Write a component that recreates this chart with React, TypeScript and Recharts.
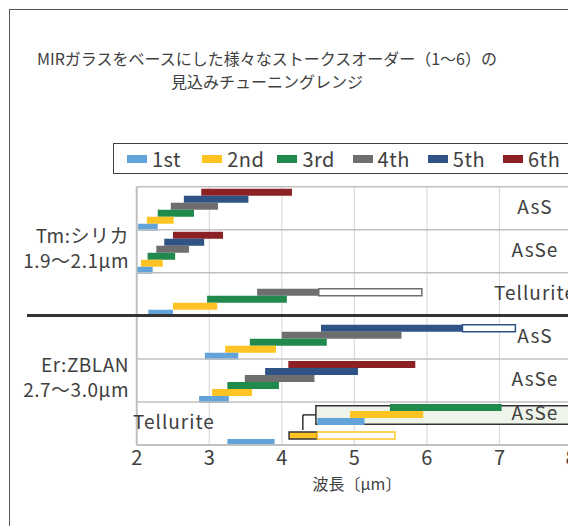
import {
  BarChart,
  Bar,
  XAxis,
  YAxis,
  CartesianGrid,
  Cell,
  ReferenceLine,
  ReferenceArea,
} from "recharts";

const rows = ["AsS", "AsSe", "Tellurite", "AsS", "AsSe", "Tellurite"];
const orders = ["1st", "2nd", "3rd", "4th", "5th", "6th"];
const colors = ["#62a3d9", "#ffc423", "#1f8a4c", "#6e6e6e", "#2f5385", "#8b2125"];
const xTicks = [2, 3, 4, 5, 6, 7, 8];

// start / end of each stokes order, one value per row (null = not reached)
const start1 = [2.02, 2.0, 2.16, 2.94, 2.86, 3.25];
const end1 = [2.29, 2.22, 2.5, 3.4, 3.27, 3.9];
const start2 = [2.14, 2.06, 2.5, 3.22, 3.04, 4.1];
const end2 = [2.51, 2.36, 3.11, 3.92, 3.59, 4.49];
const start3 = [2.29, 2.15, 2.97, 3.56, 3.25, null];
const end3 = [2.79, 2.53, 4.07, 4.62, 3.96, null];
const start4 = [2.47, 2.27, 3.66, 4.0, 3.49, null];
const end4 = [3.12, 2.72, 4.51, 5.65, 4.45, null];
const start5 = [2.65, 2.38, null, 4.54, 3.77, null];
const end5 = [3.54, 2.93, null, 6.49, 5.05, null];
const start6 = [2.89, 2.5, null, null, 4.09, null];
const end6 = [4.14, 3.19, null, null, 5.84, null];

// hollow "possible" extensions
const ext2 = [null, null, null, null, null, 5.56];
const ext4 = [null, null, 5.93, null, null, null];
const ext5 = [null, null, null, 7.22, null, null];

// AsSe callout inside the Er:ZBLAN / Tellurite row (1st..3rd)
const insetRow = 5;
const insetLabel = "AsSe";
const insetStart = [4.49, 4.94, 5.49];
const insetEnd = [5.14, 5.95, 7.03];

const groups = [
  { row: 1, lines: ["Tm:シリカ", "1.9〜2.1μm"] },
  { row: 4, lines: ["Er:ZBLAN", "2.7〜3.0μm"] },
];

const starts = [start1, start2, start3, start4, start5, start6];
const ends = [end1, end2, end3, end4, end5, end6];
const exts = [null, ext2, null, ext4, ext5, null];

const data = rows.map((row, r) => {
  const d: Record<string, any> = { row, pos: r + 0.5 };
  for (let k = 0; k < 6; k++) {
    let s = starts[k][r];
    let e = ends[k][r];
    const j = k - 3;
    if (r === insetRow && j >= 0) {
      s = insetStart[j];
      e = insetEnd[j];
    }
    if (s == null || e == null) continue;
    d[`b${k}`] = s;
    d[`f${k}`] = e - s;
    const x = exts[k]?.[r];
    if (x != null) d[`e${k}`] = x - e;
  }
  return d;
});

const barColor = (k: number, r: number) =>
  r === insetRow && k >= 3 ? colors[k - 3] : colors[k];

const FONT = "'Noto Sans CJK JP', 'Noto Sans', sans-serif";
const TEXT = "#404040";
const LBL = { fontSize: 19, fill: TEXT, letterSpacing: 1 };

function RowTick(props: any) {
  const { y, index } = props;
  const out: any[] = [];
  if (index === insetRow) {
    out.push(
      <text key="l" x={125} y={y} dy={6} textAnchor="start" {...LBL}>
        {rows[index]}
      </text>,
      <text key="r" x={527} y={y - 9.5} dy={6} textAnchor="middle" {...LBL}>
        {insetLabel}
      </text>
    );
  } else {
    out.push(
      <text key="r" x={527} y={y} dy={6} textAnchor="middle" {...LBL}>
        {rows[index]}
      </text>
    );
  }
  const g = groups.find((gr) => gr.row === index);
  if (g) {
    out.push(
      <text key="g1" x={121} y={y - 14} dy={6} textAnchor="end" {...LBL} letterSpacing={0.5}>
        {g.lines[0]}
      </text>,
      <text key="g2" x={121} y={y + 11} dy={6} textAnchor="end" {...LBL} letterSpacing={0.5}>
        {g.lines[1]}
      </text>
    );
  }
  return <g fontFamily={FONT}>{out}</g>;
}

export default function App() {
  const bars: any[] = [];
  for (let k = 5; k >= 0; k--) {
    bars.push(
      <Bar
        key={`b${k}`}
        yAxisId="cat"
        dataKey={`b${k}`}
        stackId={`s${k}`}
        fill="transparent"
        isAnimationActive={false}
      />,
      <Bar
        key={`f${k}`}
        yAxisId="cat"
        dataKey={`f${k}`}
        stackId={`s${k}`}
        isAnimationActive={false}
      >
        {data.map((_, r) => (
          <Cell
            key={r}
            fill={barColor(k, r)}
            stroke={r === insetRow && k === 1 ? "#333" : "none"}
            strokeWidth={1.5}
          />
        ))}
      </Bar>,
      <Bar
        key={`e${k}`}
        yAxisId="cat"
        dataKey={`e${k}`}
        stackId={`s${k}`}
        fill="#fff"
        stroke={colors[k]}
        strokeWidth={1.5}
        isAnimationActive={false}
      />
    );
  }

  return (
    <div
      style={{
        position: "relative",
        width: 568,
        height: 518,
        overflow: "hidden",
        fontFamily: FONT,
        color: TEXT,
      }}
    >
      <div
        style={{
          position: "absolute",
          left: 1,
          top: 1,
          width: 700,
          height: 700,
          borderLeft: "1px solid #555",
          borderTop: "1px solid #555",
        }}
      />
      <div
        style={{
          position: "absolute",
          left: 0,
          width: 518,
          top: 39,
          textAlign: "center",
          fontSize: 16,
          lineHeight: "23px",
        }}
      >
        MIRガラスをベースにした様々なストークスオーダー（1〜6）の
        <br />
        見込みチューニングレンジ
      </div>

      <div
        style={{
          position: "absolute",
          left: 105,
          top: 135,
          width: 456,
          height: 29,
          border: "1.5px solid #404040",
        }}
      >
        {orders.map((o, i) => (
          <div
            key={o}
            style={{
              position: "absolute",
              left: 13 + i * 75.2,
              top: 0,
              height: 29,
              display: "flex",
              alignItems: "center",
              fontSize: 20,
              letterSpacing: 0.5,
            }}
          >
            <span
              style={{
                display: "inline-block",
                width: 20,
                height: 8,
                background: colors[i],
                marginRight: 5,
              }}
            />
            {o}
          </div>
        ))}
      </div>

      <BarChart
        width={568}
        height={518}
        data={data}
        layout="vertical"
        barGap={0}
        barCategoryGap={2}
        margin={{ top: 178.7, right: 4, bottom: 51, left: 8.7 }}
        style={{ position: "absolute", left: 0, top: 0 }}
      >
        <CartesianGrid horizontal={false} stroke="#dcdcdc" strokeWidth={1.2} yAxisId="cat" />
        <XAxis
          type="number"
          domain={[2, 8]}
          ticks={xTicks}
          allowDataOverflow
          height={30}
          axisLine={false}
          tickLine={false}
          tickMargin={0}
          tick={{ fontSize: 20, fill: TEXT, fontFamily: FONT }}
        />
        <YAxis
          yAxisId="cat"
          type="category"
          dataKey="row"
          width={120}
          axisLine={false}
          tickLine={false}
          tick={<RowTick />}
        />
        <YAxis
          yAxisId="pos"
          type="number"
          dataKey="pos"
          domain={[0, rows.length]}
          allowDataOverflow
          hide
        />
        {rows.map((_, i) => (
          <ReferenceLine key={i} yAxisId="pos" y={i} stroke="#c0c0c0" strokeWidth={1.5} />
        ))}
        <ReferenceLine yAxisId="pos" y={rows.length} stroke="#c0c0c0" strokeWidth={2} />
        <ReferenceLine yAxisId="pos" x={2} stroke="#c0c0c0" strokeWidth={2} />
        <ReferenceLine yAxisId="pos" x={8} stroke="#c0c0c0" strokeWidth={2} />
        <ReferenceArea
          yAxisId="pos"
          x1={4.47}
          x2={8}
          y1={5.09}
          y2={5.52}
          fill="#eef4ea"
          fillOpacity={1}
          stroke="#333"
          strokeWidth={1.5}
        />
        <ReferenceLine
          yAxisId="pos"
          segment={[
            { x: 4.29, y: 5.65 },
            { x: 4.29, y: 5.3 },
          ]}
          stroke="#333"
          strokeWidth={1.5}
        />
        <ReferenceLine
          yAxisId="pos"
          segment={[
            { x: 4.29, y: 5.3 },
            { x: 4.47, y: 5.3 },
          ]}
          stroke="#333"
          strokeWidth={1.5}
        />
        {bars}
      </BarChart>

      <div
        style={{
          position: "absolute",
          left: 19,
          top: 306,
          width: 549,
          height: 3,
          background: "#333",
        }}
      />
      <div
        style={{
          position: "absolute",
          left: 249,
          width: 200,
          top: 463,
          textAlign: "center",
          fontSize: 16,
        }}
      >
        波長〔μm〕
      </div>
    </div>
  );
}
